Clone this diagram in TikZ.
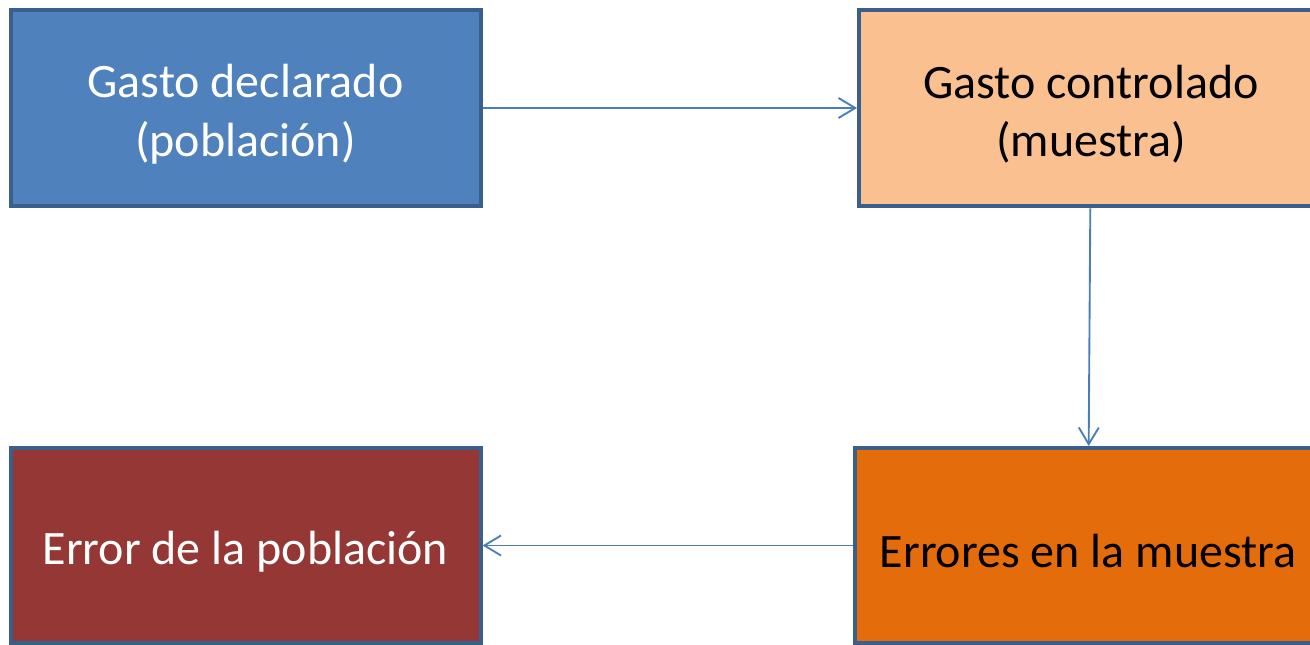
\documentclass[tikz,border=0pt]{standalone}
\usepackage{fontspec}
\setmainfont{Carlito}
\usetikzlibrary{arrows.meta}

\definecolor{boxline}{HTML}{3A5F8C}
\definecolor{arrowblue}{HTML}{4A7EBB}
\definecolor{declblue}{HTML}{4F81BD}
\definecolor{ctrlpeach}{HTML}{FAC090}
\definecolor{errorange}{HTML}{E46C0A}
\definecolor{poperred}{HTML}{953735}

\newcommand{\toppad}{\rule{0pt}{34pt}}

\tikzset{
  stage/.style={shape=rectangle, draw=boxline, line width=3pt, align=center,
    font=\fontsize{36}{44}\selectfont, inner sep=0pt},
  flow/.style={draw=arrowblue, line width=1.4pt,
    -{Straight Barb[length=12.5pt,width=15pt,line width=1.4pt]}}
}

\begin{document}
\begin{tikzpicture}[x=0.75pt,y=-0.75pt]
\useasboundingbox (0,0) rectangle (1310,645);

\node[stage,fill=declblue,text=white,minimum width=352.5pt,minimum height=147.4pt] (decl) at (245.5,108) {\toppad Gasto declarado\\(población)};
\node[stage,fill=ctrlpeach,text=black,minimum width=348pt,minimum height=147.4pt] (ctrl) at (1091,108) {\toppad Gasto controlado\\(muestra)};
\node[stage,fill=errorange,text=black,minimum width=349.5pt,minimum height=146.3pt] (errm) at (1088,545.5) {\toppad Errores en la muestra};
\node[stage,fill=poperred,text=white,minimum width=352.5pt,minimum height=146.3pt] (errp) at (245.5,545.5) {\toppad Error de la población};

\path (decl) edge[flow] (ctrl);
\path (ctrl) edge[flow] (errm);
\path (errm) edge[flow] (errp);
\end{tikzpicture}
\end{document}
